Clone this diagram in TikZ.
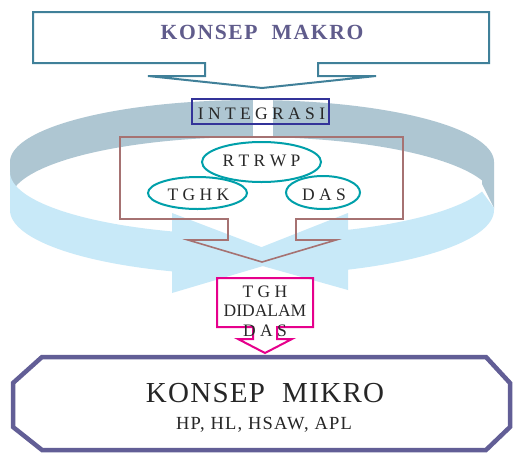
\documentclass[tikz,border=0pt]{standalone}
\usepackage{fontspec}
\setmainfont{Liberation Serif}
\definecolor{ringback}{RGB}{174,198,210}
\definecolor{ringfront}{RGB}{200,233,248}
\definecolor{makroline}{RGB}{64,128,153}
\definecolor{makrotext}{RGB}{96,92,140}
\definecolor{intline}{RGB}{51,51,153}
\definecolor{brownline}{RGB}{166,114,114}
\definecolor{ellline}{RGB}{0,160,170}
\definecolor{pinkline}{RGB}{230,0,140}
\definecolor{mikroline}{RGB}{98,94,150}
\definecolor{txt}{RGB}{40,40,40}
\begin{document}
\begin{tikzpicture}[x=1pt,y=-1pt,line join=miter,
  ovalline/.style={draw=ellline,line width=2pt},
  spaced/.style={font=\fontsize{17.5}{19.5}\selectfont,text=txt,inner sep=0pt,anchor=base},
]
\useasboundingbox (0,0) rectangle (514,453);
\fill[white] (0,0) rectangle (514,453);
% ring: back part
\fill[ringback] plot[domain=180:0,samples=90,variable=\t] ({252+242*cos(\t)},{162-62*sin(\t)})
  -- (494,208) -- (482,184)
  -- plot[domain=18.1:180,samples=90,variable=\t] ({252+242*cos(\t)},{200-63*sin(\t)}) -- cycle;
\fill[white] (253,95) rectangle (273,145);
% ring: front parts with arrow heads
\fill[ringfront] plot[domain=180:250.7,samples=60,variable=\t] ({252+242*cos(\t)},{172-63*sin(\t)})
  -- (172,213) -- (290,258) -- (172,293)
  -- plot[domain=250.7:180,samples=60,variable=\t] ({252+242*cos(\t)},{210-65*sin(\t)}) -- cycle;
\fill[ringfront] plot[domain=341.9:293.4,samples=60,variable=\t] ({252+242*cos(\t)},{172-63*sin(\t)})
  -- (348,213) -- (234,258) -- (348,290)
  -- plot[domain=293.4:360,samples=60,variable=\t] ({252+242*cos(\t)},{210-65*sin(\t)})
  -- (494,208) -- cycle;
% brown callout
\draw[brownline,line width=1.6pt] (120,137) -- (403,137) -- (403,219) -- (296,219) -- (296,240)
  -- (336,240) -- (262,262) -- (188,240) -- (228,240) -- (228,219) -- (120,219) -- cycle;
% ellipses
\draw[ovalline] (261.5,162) ellipse [x radius=59.5,y radius=20];
\draw[ovalline] (197.5,193) ellipse [x radius=49.5,y radius=16];
\draw[ovalline] (323,192.5) ellipse [x radius=37,y radius=16.5];
\node[spaced] (rtrwp) at (261.5,166.5) {R T R W P};
\node[spaced] (tghk) at (198.5,200) {T G H K};
\node[spaced] (das) at (324,200) {D A S};
% integrasi
\draw[intline,line width=2pt] (192,99) rectangle (329,124);
\node[spaced] (integ) at (261.5,119.5) {I N T E G R A S I};
% top callout
\draw[makroline,line width=2pt,fill=white] (33,12) -- (489,12) -- (489,63) -- (318,63) -- (318,76)
  -- (376,76) -- (262,88) -- (148,76) -- (205,76) -- (205,63) -- (33,63) -- cycle;
\node[anchor=base,inner sep=0pt,text=makrotext,
  font=\fontsize{21.6}{24}\selectfont\bfseries\addfontfeatures{LetterSpace=7.5}] (makro) at (262,39.5) {KONSEP\ \ MAKRO};
% pink callout
\draw[pinkline,line width=2pt] (217,278) -- (313,278) -- (313,327) -- (277,327) -- (277,339)
  -- (292,339) -- (265,353) -- (238,339) -- (253,339) -- (253,327) -- (217,327) -- cycle;
\node[spaced] (tgh1) at (265,297) {T G H};
\node[spaced] (tgh2) at (265,316) {DIDALAM};
\node[spaced] (tgh3) at (265,336) {D A S};
% octagon
\draw[mikroline,line width=4.5pt,fill=white] (42,357) -- (486,357) -- (510,383) -- (510,427)
  -- (486,450) -- (42,450) -- (13,427) -- (13,383) -- cycle;
\node[anchor=base,inner sep=0pt,text=black!85,
  font=\fontsize{29}{32}\selectfont\addfontfeatures{LetterSpace=4.5}] (mikro) at (265,402) {KONSEP\ \ MIKRO};
\node[anchor=base,inner sep=0pt,text=black!85,
  font=\fontsize{18.5}{20}\selectfont\addfontfeatures{LetterSpace=6.5}] (jenis) at (264,429) {HP, HL, HSAW, APL};
\end{tikzpicture}
\end{document}
